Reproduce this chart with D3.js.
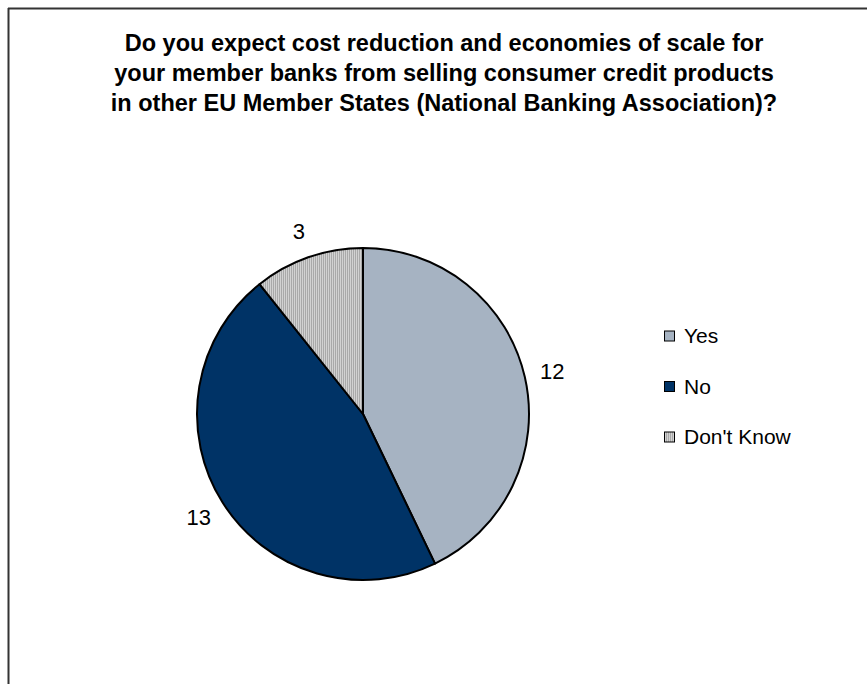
<!DOCTYPE html>
<html>
<head>
<meta charset="utf-8">
<script src="https://cdn.jsdelivr.net/npm/d3@7"></script>
<style>
  body { margin: 0; background: #fff; }
  svg { display: block; font-family: Arial, "Liberation Sans", sans-serif; }
</style>
</head>
<body>
<div id="chart"></div>
<script>
  // chart data
  var categories = ["Yes", "No", "Don't Know"];
  var counts = [12, 13, 3];
  var titleLines = [
    "Do you expect cost reduction and economies of scale for",
    "your member banks from selling consumer credit products",
    "in other EU Member States (National Banking Association)?"
  ];

  var width = 867, height = 684;
  var cx = 363, cy = 414, radius = 166;

  var svg = d3.select("#chart").append("svg")
    .attr("width", width)
    .attr("height", height);

  // frame (only top and left edges are visible)
  svg.append("line")
    .attr("x1", 8).attr("y1", 8.5).attr("x2", width).attr("y2", 8.5)
    .attr("stroke", "#333").attr("stroke-width", 2);
  svg.append("line")
    .attr("x1", 8.5).attr("y1", 8).attr("x2", 8.5).attr("y2", height)
    .attr("stroke", "#333").attr("stroke-width", 2);

  // striped fill for "Don't Know"
  var defs = svg.append("defs");
  var pat = defs.append("pattern")
    .attr("id", "stripes")
    .attr("patternUnits", "userSpaceOnUse")
    .attr("width", 2).attr("height", 4);
  pat.append("rect").attr("width", 2).attr("height", 4).attr("fill", "#d2d2d2");
  pat.append("rect").attr("width", 1).attr("height", 4).attr("fill", "#a9a9a9");

  var color = d3.scaleOrdinal()
    .domain(categories)
    .range(["#a6b3c2", "#003366", "url(#stripes)"]);

  // title
  svg.append("text")
    .attr("x", 444)
    .attr("y", 51)
    .attr("text-anchor", "middle")
    .attr("font-size", 23.5)
    .attr("font-weight", "bold")
    .attr("fill", "#000")
    .selectAll("tspan")
    .data(titleLines)
    .enter().append("tspan")
    .attr("x", 444)
    .attr("dy", function(d, i) { return i === 0 ? 0 : 30; })
    .text(function(d) { return d; });

  var data = categories.map(function(c, i) { return { name: c, value: counts[i] }; });

  var pie = d3.pie()
    .sort(null)
    .value(function(d) { return d.value; });

  var arc = d3.arc().innerRadius(0).outerRadius(radius);
  var labelArc = d3.arc().innerRadius(194).outerRadius(194);

  var g = svg.append("g")
    .attr("transform", "translate(" + cx + "," + cy + ")");

  g.selectAll("path")
    .data(pie(data))
    .enter().append("path")
    .attr("d", arc)
    .attr("fill", function(d) { return color(d.data.name); })
    .attr("stroke", "#000")
    .attr("stroke-width", 2)
    .attr("stroke-linejoin", "round");

  g.selectAll(".lbl")
    .data(pie(data))
    .enter().append("text")
    .attr("class", "lbl")
    .attr("transform", function(d) { return "translate(" + labelArc.centroid(d) + ")"; })
    .attr("text-anchor", "middle")
    .attr("dy", "0.35em")
    .attr("font-size", 22)
    .attr("fill", "#000")
    .text(function(d) { return d.data.value; });

  // legend
  var legend = svg.selectAll(".legend")
    .data(categories)
    .enter().append("g")
    .attr("class", "legend")
    .attr("transform", function(d, i) { return "translate(664," + (336 + i * 50.5) + ")"; });

  legend.append("rect")
    .attr("x", 0.5)
    .attr("y", -5)
    .attr("width", 10)
    .attr("height", 10)
    .attr("fill", color)
    .attr("stroke", "#000")
    .attr("stroke-width", 1);

  legend.append("text")
    .attr("x", 20)
    .attr("dy", "0.35em")
    .attr("font-size", 21)
    .attr("fill", "#000")
    .text(function(d) { return d; });
</script>
</body>
</html>
